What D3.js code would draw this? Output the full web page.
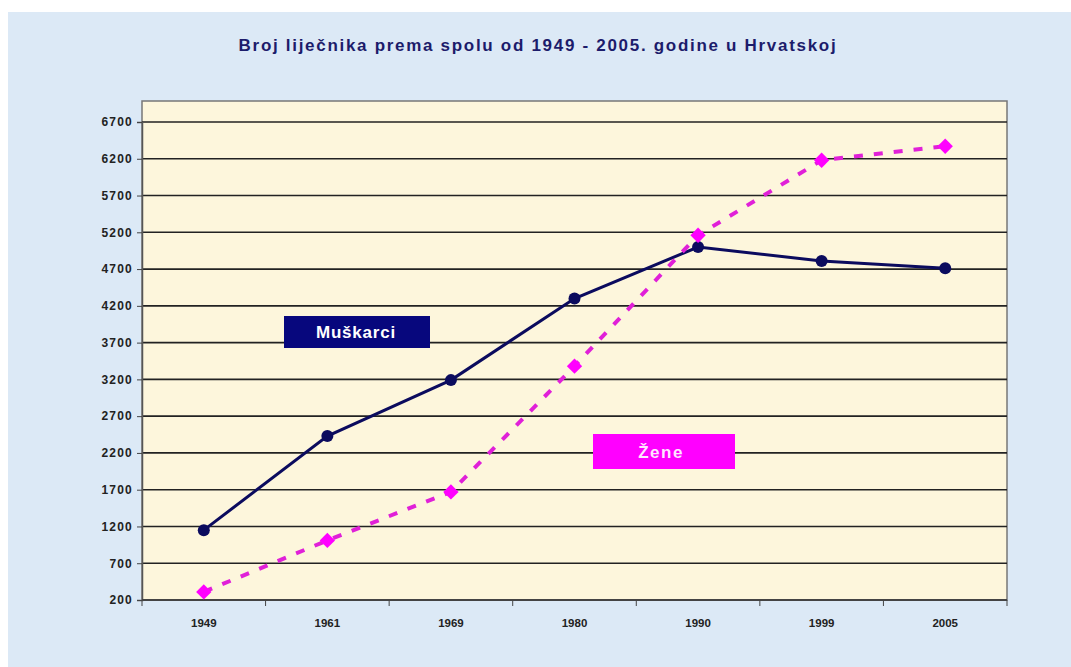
<!DOCTYPE html>
<html>
<head>
<meta charset="utf-8">
<script src="https://cdn.jsdelivr.net/npm/d3@7"></script>
<style>
  html, body { margin: 0; padding: 0; background: #fff; }
  svg { display: block; font-family: Arial, "Liberation Sans", sans-serif; }
</style>
</head>
<body>
<div id="chart"></div>
<script>
var title = "Broj liječnika prema spolu od 1949 - 2005. godine u Hrvatskoj";
var years = ["1949", "1961", "1969", "1980", "1990", "1999", "2005"];
var muskarci = [1150, 2430, 3190, 4300, 5000, 4810, 4710];
var zene = [310, 1010, 1670, 3380, 5160, 6180, 6370];
var yTicks = [200, 700, 1200, 1700, 2200, 2700, 3200, 3700, 4200, 4700, 5200, 5700, 6200, 6700];

var width = 1071, height = 667;
var plot = {left: 142, right: 1007, top: 101, bottom: 600};

var svg = d3.select("#chart").append("svg")
    .attr("width", width)
    .attr("height", height);

// light blue paper background
svg.append("rect")
    .attr("x", 8).attr("y", 12)
    .attr("width", width - 8).attr("height", height - 12)
    .attr("fill", "#dce9f6");

var x = d3.scaleBand()
    .domain(years)
    .range([plot.left, plot.right]);

var y = d3.scaleLinear()
    .domain([200, 6700])
    .range([plot.bottom, 122]);

svg.append("rect")
    .attr("x", plot.left).attr("y", plot.top)
    .attr("width", plot.right - plot.left).attr("height", plot.bottom - plot.top)
    .attr("fill", "#fdf6dc")
    .attr("stroke", "#777")
    .attr("stroke-width", 1.5);

// gridlines
svg.append("g").selectAll("line")
    .data(yTicks.slice(1))
    .enter().append("line")
    .attr("x1", plot.left).attr("x2", plot.right)
    .attr("y1", function(d) { return y(d); })
    .attr("y2", function(d) { return y(d); })
    .attr("stroke", "#222")
    .attr("stroke-width", 1.6);

// y axis
var yAxis = svg.append("g")
    .attr("transform", "translate(" + plot.left + ",0)")
    .call(d3.axisLeft(y).tickValues(yTicks).tickFormat(d3.format("d")).tickSize(5).tickPadding(4));
yAxis.select(".domain").attr("stroke", "#555").attr("stroke-width", 1.5);
yAxis.selectAll(".tick line").attr("stroke", "#444");
yAxis.selectAll("text")
    .attr("font-size", 12).attr("font-weight", "bold").attr("fill", "#222")
    .attr("letter-spacing", 1.2);

// x axis, ticks between categories
var xAxis = svg.append("g")
    .attr("transform", "translate(0," + plot.bottom + ")");
xAxis.append("line")
    .attr("x1", plot.left).attr("x2", plot.right)
    .attr("stroke", "#444").attr("stroke-width", 2);
xAxis.selectAll(".tk")
    .data(years.concat(["end"]))
    .enter().append("line")
    .attr("x1", function(d, i) { return plot.left + i * x.step(); })
    .attr("x2", function(d, i) { return plot.left + i * x.step(); })
    .attr("y1", 0).attr("y2", 6)
    .attr("stroke", "#444");
xAxis.selectAll("text")
    .data(years)
    .enter().append("text")
    .attr("x", function(d) { return x(d) + x.bandwidth() / 2; })
    .attr("y", 27)
    .attr("text-anchor", "middle")
    .attr("font-size", 11.5).attr("font-weight", "bold").attr("fill", "#222")
    .text(function(d) { return d; });

var cx = function(d, i) { return x(years[i]) + x.bandwidth() / 2; };
var line = d3.line()
    .x(cx)
    .y(function(d) { return y(d); });

// Muškarci
svg.append("path")
    .datum(muskarci)
    .attr("d", line)
    .attr("fill", "none")
    .attr("stroke", "#0b0b5e")
    .attr("stroke-width", 3);
svg.append("g").selectAll("circle")
    .data(muskarci)
    .enter().append("circle")
    .attr("cx", cx)
    .attr("cy", function(d) { return y(d); })
    .attr("r", 6)
    .attr("fill", "#0b0b5e");

// Žene
svg.append("path")
    .datum(zene)
    .attr("d", line)
    .attr("fill", "none")
    .attr("stroke", "#e020d8")
    .attr("stroke-width", 4)
    .attr("stroke-dasharray", "9,11");
svg.append("g").selectAll("path.dm")
    .data(zene)
    .enter().append("path")
    .attr("class", "dm")
    .attr("d", d3.symbol().type(d3.symbolDiamond2).size(150))
    .attr("transform", function(d, i) { return "translate(" + cx(d, i) + "," + y(d) + ")"; })
    .attr("fill", "#ff00ff");

// series labels
svg.append("rect")
    .attr("x", 284).attr("y", 316).attr("width", 146).attr("height", 32)
    .attr("fill", "#07077d");
svg.append("text")
    .attr("x", 356).attr("y", 338)
    .attr("text-anchor", "middle")
    .attr("font-size", 17).attr("font-weight", "bold").attr("fill", "#fff")
    .attr("letter-spacing", 0.8)
    .text("Muškarci");

svg.append("rect")
    .attr("x", 593).attr("y", 434).attr("width", 142).attr("height", 35)
    .attr("fill", "#ff00ff");
svg.append("text")
    .attr("x", 661).attr("y", 458)
    .attr("text-anchor", "middle")
    .attr("font-size", 17).attr("font-weight", "bold").attr("fill", "#ffe6ff")
    .attr("letter-spacing", 1.5)
    .text("Žene");

// title
svg.append("text")
    .attr("x", 538).attr("y", 51)
    .attr("text-anchor", "middle")
    .attr("font-size", 17).attr("font-weight", "bold").attr("fill", "#1c1c6b")
    .attr("letter-spacing", 1.7)
    .text(title);
</script>
</body>
</html>
